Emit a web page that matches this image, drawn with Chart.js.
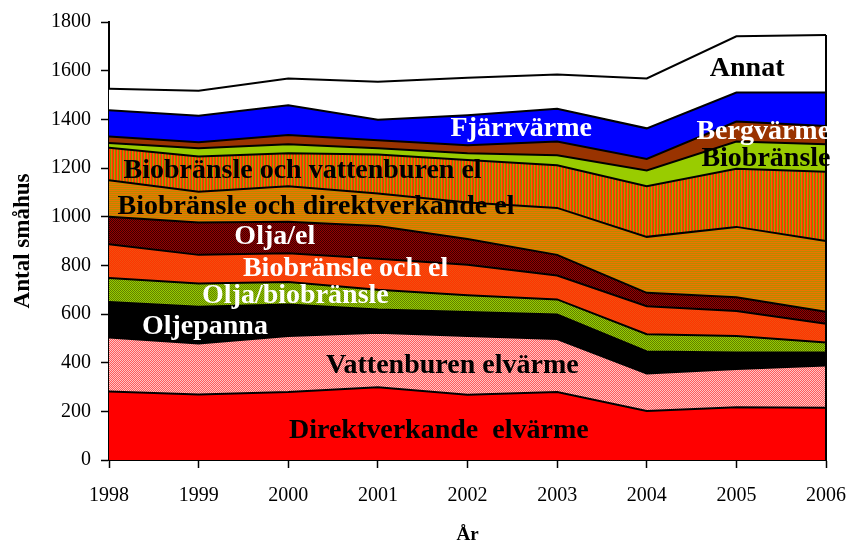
<!DOCTYPE html>
<html>
<head>
<meta charset="utf-8">
<script src="https://cdn.jsdelivr.net/npm/chart.js@4.4.1/dist/chart.umd.min.js"></script>
<style>
  html, body { margin: 0; padding: 0; background: #fff; }
  #wrap { width: 851px; height: 548px; }
</style>
</head>
<body>
<div id="wrap"><canvas id="areaChart" width="851" height="548"></canvas></div>
<script>
// years and values (number of houses per heating type)
const years = ['1998', '1999', '2000', '2001', '2002', '2003', '2004', '2005', '2006'];

const direktverkande = [282, 269, 279, 299, 268, 279, 201, 217, 215];
const vattenburen    = [221, 210, 231, 224, 242, 218, 155, 157, 173];
const oljepanna      = [146, 151, 129,  96,  98, 101,  90,  68,  54];
const oljaBio        = [ 99,  95,  93,  81,  69,  62,  71,  68,  41];
const bioEl          = [139, 118, 118, 127, 125,  98, 115, 102,  77];
const oljaEl         = [113, 133, 129, 135, 106,  85,  55,  57,  49];
const bioDirekt      = [150, 126, 146, 133, 150, 193, 230, 289, 291];
const bioVatten      = [133, 145, 136, 160, 175, 175, 208, 239, 285];
const biobransle     = [ 20,  34,  37,  26,  28,  41,  65, 112, 113];
const bergvarme      = [ 26,  25,  38,  33,  33,  57,  47,  82,  75];
const fjarrvarme     = [108, 109, 122,  84, 123, 134, 126, 119, 137];
const annat          = [ 89, 102, 110, 156, 154, 141, 205, 231, 237];

const yTicks = [0, 200, 400, 600, 800, 1000, 1200, 1400, 1600, 1800];

// small repeating fills like the old office patterns
function makePattern(w, h, draw) {
    const c = document.createElement('canvas');
    c.width = w; c.height = h;
    const g = c.getContext('2d');
    draw(g);
    return g.createPattern(c, 'repeat');
}
function checker(a, b) {
    return makePattern(2, 2, g => {
        g.fillStyle = a; g.fillRect(0, 0, 2, 2);
        g.fillStyle = b; g.fillRect(0, 0, 1, 1); g.fillRect(1, 1, 1, 1);
    });
}
function hstripes(cols) {
    return makePattern(1, cols.length, g => {
        cols.forEach((c, i) => { g.fillStyle = c; g.fillRect(0, i, 1, 1); });
    });
}
function vstripes(cols) {
    return makePattern(cols.length, 1, g => {
        cols.forEach((c, i) => { g.fillStyle = c; g.fillRect(i, 0, 1, 1); });
    });
}

const series = [
    { label: 'Direktverkande elvärme', data: direktverkande, fill: '#FF0000' },
    { label: 'Vattenburen elvärme', data: vattenburen, fill: checker('#FF5A5A', '#FFC4C4') },
    { label: 'Oljepanna', data: oljepanna, fill: '#000000' },
    { label: 'Olja/biobränsle', data: oljaBio, fill: checker('#99CC00', '#5E8000') },
    { label: 'Biobränsle och el', data: bioEl, fill: checker('#FF3300', '#F05010') },
    { label: 'Olja/el', data: oljaEl, fill: checker('#990000', '#3A0000') },
    { label: 'Biobränsle och direktverkande el', data: bioDirekt, fill: hstripes(['#EE7400', '#B88A00']) },
    { label: 'Biobränsle och vattenburen el', data: bioVatten, fill: vstripes(['#FF6600', '#FF3300', '#779900']) },
    { label: 'Biobränsle', data: biobransle, fill: '#99CC00' },
    { label: 'Bergvärme', data: bergvarme, fill: '#993300' },
    { label: 'Fjärrvärme', data: fjarrvarme, fill: '#0000FF' },
    { label: 'Annat', data: annat, fill: '#FFFFFF' }
];

// text inside the areas, anchored in data space (year index, baseline value)
const areaLabels = [
    { text: 'Annat', x: 7.12, y: 1580, color: '#000' },
    { text: 'Fjärrvärme', x: 4.60, y: 1333, color: '#fff' },
    { text: 'Bergvärme', x: 7.30, y: 1319, color: '#fff' },
    { text: 'Biobränsle', x: 7.33, y: 1210, color: '#000' },
    { text: 'Biobränsle och vattenburen el', x: 2.16, y: 1159, color: '#000' },
    { text: 'Biobränsle och direktverkande el', x: 2.31, y: 1013, color: '#000' },
    { text: 'Olja/el', x: 1.85, y: 887, color: '#fff' },
    { text: 'Biobränsle och el', x: 2.64, y: 755, color: '#fff' },
    { text: 'Olja/biobränsle', x: 2.08, y: 646, color: '#fff' },
    { text: 'Oljepanna', x: 1.07, y: 517, color: '#fff' },
    { text: 'Vattenburen elvärme', x: 3.83, y: 359, color: '#000' },
    { text: 'Direktverkande  elvärme', x: 3.68, y: 92, color: '#000' }
];

const labelPlugin = {
    id: 'areaLabels',
    afterDatasetsDraw(chart) {
        const ctx = chart.ctx;
        const xs = chart.scales.x, ys = chart.scales.y;
        ctx.save();
        // closing edge of the stack at the last year
        const last = years.length - 1;
        const total = series.reduce((s, d) => s + d.data[last], 0);
        ctx.strokeStyle = '#000';
        ctx.lineWidth = 2;
        ctx.beginPath();
        ctx.moveTo(xs.getPixelForValue(last), ys.getPixelForValue(0));
        ctx.lineTo(xs.getPixelForValue(last), ys.getPixelForValue(total));
        ctx.stroke();

        ctx.font = 'bold 28px "Liberation Serif"';
        ctx.textAlign = 'center';
        ctx.textBaseline = 'alphabetic';
        areaLabels.forEach(l => {
            const px = xs.left + (xs.right - xs.left) * l.x / last;
            ctx.fillStyle = l.color;
            ctx.fillText(l.text, px, ys.getPixelForValue(l.y));
        });
        ctx.restore();
    }
};

new Chart(document.getElementById('areaChart'), {
    type: 'line',
    data: {
        labels: years,
        datasets: series.map((s, i) => ({
            label: s.label,
            data: s.data,
            backgroundColor: s.fill,
            borderColor: '#000000',
            borderWidth: 2,
            pointRadius: 0,
            tension: 0,
            fill: i === 0 ? 'origin' : '-1'
        }))
    },
    options: {
        responsive: false,
        animation: false,
        layout: { padding: { top: 19, right: 0, left: 0, bottom: 0 } },
        plugins: {
            legend: { display: false },
            tooltip: { enabled: false }
        },
        scales: {
            x: {
                offset: false,
                grid: { drawOnChartArea: false, tickLength: 8, tickColor: '#000', tickWidth: 1.5 },
                border: { color: '#000', width: 2 },
                ticks: { color: '#000', padding: 16, maxRotation: 0, font: { family: 'Liberation Serif', size: 20 } },
                title: { display: true, text: 'År', color: '#000', padding: { top: 0, bottom: 2 },
                         font: { family: 'Liberation Serif', size: 19, weight: 'bold' } },
                afterFit(scale) {
                    scale.height = 88;
                    scale.paddingLeft = 0;
                    scale.paddingRight = 25;
                }
            },
            y: {
                stacked: true,
                min: 0,
                max: 1800,
                afterBuildTicks(scale) { scale.ticks = yTicks.map(v => ({ value: v })); },
                grid: { drawOnChartArea: false, tickLength: 8, tickColor: '#000', tickWidth: 1.5 },
                border: { color: '#000', width: 2 },
                ticks: { color: '#000', padding: 10, font: { family: 'Liberation Serif', size: 20 },
                         callback: v => String(v) },
                title: { display: true, text: 'Antal småhus', color: '#000', padding: { top: 9, bottom: 0 },
                         font: { family: 'Liberation Serif', size: 23, weight: 'bold' } },
                afterFit(scale) { scale.width = 109; }
            }
        }
    },
    plugins: [labelPlugin]
});
</script>
</body>
</html>
